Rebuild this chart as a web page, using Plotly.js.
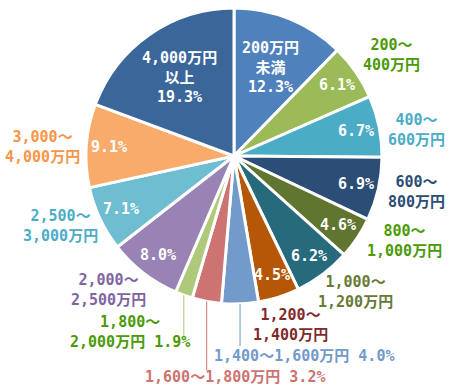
<!DOCTYPE html>
<html>
<head>
<meta charset="utf-8">
<script src="https://cdn.plot.ly/plotly-3.0.1.min.js"></script>
<style>
  html, body { margin: 0; padding: 0; background: #fff; }
  #chart { width: 455px; height: 391px; }
</style>
</head>
<body>
<div id="chart"></div>
<script>
// ---- data ----
const categories = ['200万円未満', '200～400万円', '400～600万円', '600～800万円', '800～1,000万円',
  '1,000～1,200万円', '1,200～1,400万円', '1,400～1,600万円', '1,600～1,800万円', '1,800～2,000万円',
  '2,000～2,500万円', '2,500～3,000万円', '3,000～4,000万円', '4,000万円以上'];
const shares = [12.3, 6.1, 6.7, 6.9, 4.6, 6.2, 4.5, 4.0, 3.2, 1.9, 8.0, 7.1, 9.1, 19.3];
const labelLines = ['200万円<br>未満', '200～<br>400万円', '400～<br>600万円', '600～<br>800万円', '800～<br>1,000万円',
  '1,000～<br>1,200万円', '1,200～<br>1,400万円', '1,400～1,600万円', '1,600～1,800万円', '1,800～<br>2,000万円',
  '2,000～<br>2,500万円', '2,500～<br>3,000万円', '3,000～<br>4,000万円', '4,000万円<br>以上'];

// ---- styles ----
const sliceColors = ['#4F81BD', '#9BBB59', '#4BACC6', '#2C4D75', '#5F7530', '#276A7C', '#B65708',
  '#729ACA', '#CD7371', '#AFC97A', '#9983B5', '#6FBDD1', '#F9AB6B', '#3A6699'];
const labelColors = ['#ffffff', '#4c9a06', '#4BACC6', '#2C4D75', '#4c9a06', '#667a35', '#7f2b2b',
  '#729ACA', '#CD7371', '#4c9a06', '#8064A2', '#4BACC6', '#F79646', '#ffffff'];
// label mode: 'in' = name + % inside, 'out' = name outside / % inside, 'outPct' = name + % outside with leader
const labelMode = ['in', 'out', 'out', 'out', 'out', 'out', 'out', 'outPct', 'outPct', 'outPct', 'out', 'out', 'out', 'in'];
// outside label block centres in pixels (layout)
const outPos = [null, [391, 55], [416, 130], [416, 192], [404, 241], [355, 292], [290, 325],
  [304, 356], [235, 377], [130, 332], [108, 290], [60, 226], [42, 147], null];
const leaderEnd = {7: 346, 8: 370, 9: 337};

const W = 455, H = 391;
const cx = 234, cy = 156, R = 148;
const fontFam = '"DejaVu Sans Mono", "Noto Sans CJK JP", monospace';
const fs = 15;

const px = x => x / W;
const py = y => 1 - y / H;

const total = shares.reduce((a, b) => a + b, 0);
const annotations = [];
const shapes = [];
let cum = 0;
shares.forEach((v, i) => {
  const mid = (cum + v / 2) / total * 2 * Math.PI;
  cum += v;
  const pct = v.toFixed(1) + '%';
  const mode = labelMode[i];
  if (mode === 'in') {
    const r = 96;
    annotations.push({
      x: px(cx + r * Math.sin(mid)), y: py(cy - r * Math.cos(mid)), xref: 'paper', yref: 'paper',
      xanchor: 'center', yanchor: 'middle', showarrow: false,
      text: '<b>' + labelLines[i] + '<br>' + pct + '</b>',
      font: {family: fontFam, size: fs, color: '#ffffff'}
    });
  } else if (mode === 'out') {
    const r = 125;
    annotations.push({
      x: px(cx + r * Math.sin(mid)), y: py(cy - r * Math.cos(mid)), xref: 'paper', yref: 'paper',
      xanchor: 'center', yanchor: 'middle', showarrow: false,
      text: '<b>' + pct + '</b>',
      font: {family: fontFam, size: fs, color: '#ffffff'}
    });
    annotations.push({
      x: px(outPos[i][0]), y: py(outPos[i][1]), xref: 'paper', yref: 'paper',
      xanchor: 'center', yanchor: 'middle', showarrow: false,
      text: '<b>' + labelLines[i] + '</b>',
      font: {family: fontFam, size: fs, color: labelColors[i]}
    });
  } else {
    annotations.push({
      x: px(outPos[i][0]), y: py(outPos[i][1]), xref: 'paper', yref: 'paper',
      xanchor: 'center', yanchor: 'middle', showarrow: false,
      text: '<b>' + labelLines[i] + ' ' + pct + '</b>',
      font: {family: fontFam, size: fs, color: labelColors[i]}
    });
    const lx = cx + R * Math.sin(mid);
    const ly = cy - R * Math.cos(mid);
    shapes.push({
      type: 'line', xref: 'paper', yref: 'paper',
      x0: px(lx), x1: px(lx), y0: py(ly), y1: py(leaderEnd[i]),
      line: {color: sliceColors[i], width: 1}
    });
  }
});

const trace = {
  type: 'pie',
  labels: categories,
  values: shares,
  sort: false,
  direction: 'clockwise',
  rotation: 0,
  textinfo: 'none',
  hoverinfo: 'none',
  marker: {colors: sliceColors, line: {color: '#ffffff', width: 3}},
  domain: {x: [px(cx - R), px(cx + R)], y: [py(cy + R), py(cy - R)]},
  showlegend: false
};

const layout = {
  width: W, height: H,
  margin: {l: 0, r: 0, t: 0, b: 0},
  paper_bgcolor: '#ffffff',
  plot_bgcolor: '#ffffff',
  showlegend: false,
  annotations: annotations,
  shapes: shapes
};

Plotly.newPlot('chart', [trace], layout, {displayModeBar: false, staticPlot: true});
</script>
</body>
</html>
